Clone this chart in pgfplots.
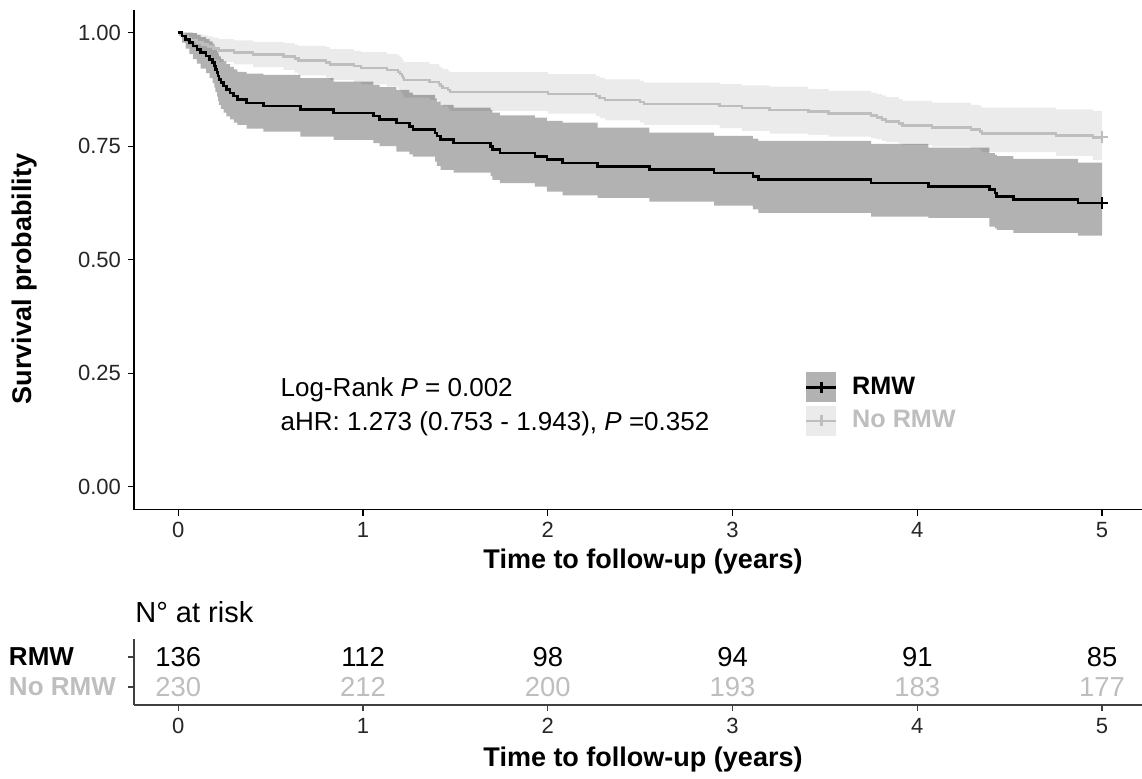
\documentclass[border=0pt]{standalone}
\usepackage{pgfplots}
\pgfplotsset{compat=1.18}
\usepackage{pgfplotstable}
\usepackage{fontspec}
\setmainfont{Liberation Sans}
\definecolor{lgrey}{HTML}{BEBEBE}

% Kaplan-Meier estimates (time, survival)
\pgfplotstableread{
t s
0 1
0.02 0.9926
0.04 0.9853
0.06 0.9779
0.08 0.9706
0.10 0.9632
0.12 0.9559
0.15 0.9485
0.17 0.9412
0.185 0.9338
0.195 0.9265
0.20 0.9191
0.21 0.9118
0.215 0.9044
0.22 0.8971
0.23 0.8897
0.245 0.8824
0.26 0.8750
0.28 0.8676
0.30 0.8603
0.32 0.8529
0.37 0.8456
0.46 0.8382
0.66 0.8309
0.84 0.8235
1.055 0.8162
1.09 0.8088
1.18 0.8015
1.25 0.7941
1.27 0.7868
1.39 0.7794
1.40 0.7721
1.42 0.7647
1.49 0.7574
1.69 0.7500
1.70 0.7426
1.74 0.7353
1.93 0.7279
1.995 0.7206
2.08 0.7132
2.27 0.7059
2.55 0.6985
2.90 0.6912
3.11 0.6838
3.14 0.6765
3.75 0.6691
4.06 0.6618
4.39 0.6544
4.42 0.6471
4.43 0.6397
4.52 0.6324
4.87 0.6250
5.00 0.6250
}\rmw

\pgfplotstableread{
t s
0 1
0.01 0.9957
0.03 0.9913
0.05 0.9870
0.07 0.9826
0.10 0.9783
0.13 0.9739
0.16 0.9696
0.19 0.9652
0.22 0.9609
0.30 0.9565
0.405 0.9522
0.57 0.9478
0.63 0.9435
0.65 0.9391
0.80 0.9348
0.82 0.9304
0.95 0.9261
0.99 0.9217
1.13 0.9174
1.19 0.9130
1.20 0.9087
1.21 0.9043
1.215 0.9000
1.22 0.8957
1.36 0.8913
1.41 0.8870
1.42 0.8826
1.43 0.8783
1.46 0.8739
1.47 0.8696
2.00 0.8652
2.26 0.8609
2.28 0.8565
2.31 0.8522
2.50 0.8478
2.52 0.8435
2.93 0.8391
3.05 0.8348
3.20 0.8304
3.41 0.8261
3.52 0.8217
3.75 0.8174
3.78 0.8130
3.81 0.8087
3.83 0.8043
3.90 0.8000
3.92 0.7957
4.08 0.7913
4.29 0.7870
4.34 0.7826
4.35 0.7783
4.75 0.7739
4.95 0.7696
5.00 0.7696
}\normw

% confidence bands: upper limit forward, then lower limit backward
\pgfplotstableread{
t y
0 1
0.02 1.000
0.04 1.000
0.06 1.000
0.08 0.999
0.10 0.995
0.12 0.990
0.15 0.986
0.17 0.981
0.185 0.976
0.195 0.970
0.20 0.965
0.21 0.959
0.215 0.954
0.22 0.948
0.23 0.942
0.245 0.937
0.26 0.931
0.28 0.925
0.30 0.919
0.32 0.914
0.37 0.910
0.46 0.907
0.66 0.900
0.84 0.892
1.055 0.885
1.09 0.880
1.18 0.874
1.25 0.868
1.27 0.863
1.39 0.855
1.40 0.848
1.42 0.841
1.49 0.835
1.69 0.830
1.70 0.824
1.74 0.818
1.93 0.813
1.995 0.806
2.08 0.802
2.27 0.791
2.55 0.780
2.90 0.773
3.11 0.767
3.14 0.762
3.75 0.755
4.06 0.747
4.39 0.735
4.42 0.731
4.43 0.728
4.52 0.722
4.87 0.714
5.00 0.714
5.00 0.553
4.87 0.559
4.52 0.566
4.43 0.569
4.42 0.573
4.39 0.592
4.06 0.595
3.75 0.603
3.14 0.611
3.11 0.619
2.90 0.628
2.55 0.636
2.27 0.642
2.08 0.650
1.995 0.661
1.93 0.669
1.74 0.676
1.70 0.684
1.69 0.692
1.49 0.698
1.42 0.707
1.40 0.716
1.39 0.727
1.27 0.732
1.25 0.738
1.18 0.750
1.09 0.757
1.055 0.764
0.84 0.771
0.66 0.782
0.46 0.789
0.37 0.797
0.32 0.802
0.30 0.809
0.28 0.816
0.26 0.824
0.245 0.832
0.23 0.841
0.22 0.850
0.215 0.859
0.21 0.869
0.20 0.879
0.195 0.889
0.185 0.900
0.17 0.911
0.15 0.921
0.12 0.932
0.10 0.942
0.08 0.953
0.06 0.965
0.04 0.978
0.02 1
0 1
}\rmwband

\pgfplotstableread{
t y
0 1
0.01 1.000
0.03 1.000
0.05 1.000
0.07 0.999
0.10 0.997
0.13 0.994
0.16 0.992
0.19 0.989
0.22 0.986
0.30 0.983
0.405 0.980
0.57 0.977
0.63 0.974
0.65 0.971
0.80 0.968
0.82 0.964
0.95 0.960
0.99 0.957
1.13 0.953
1.19 0.950
1.20 0.946
1.21 0.943
1.215 0.939
1.22 0.935
1.36 0.931
1.41 0.927
1.42 0.923
1.43 0.920
1.46 0.916
1.47 0.913
2.00 0.909
2.26 0.905
2.28 0.901
2.31 0.897
2.50 0.894
2.52 0.890
2.93 0.887
3.05 0.884
3.20 0.881
3.41 0.876
3.52 0.872
3.75 0.868
3.78 0.865
3.81 0.862
3.83 0.858
3.90 0.854
3.92 0.850
4.08 0.846
4.29 0.841
4.34 0.838
4.35 0.835
4.75 0.831
4.95 0.828
5.00 0.828
5.00 0.720
4.95 0.729
4.75 0.737
4.35 0.741
4.34 0.745
4.29 0.749
4.08 0.753
3.92 0.756
3.90 0.759
3.83 0.762
3.81 0.765
3.78 0.768
3.75 0.771
3.52 0.775
3.41 0.778
3.20 0.784
3.05 0.790
2.93 0.797
2.52 0.802
2.50 0.807
2.31 0.812
2.28 0.817
2.26 0.822
2.00 0.828
1.47 0.833
1.46 0.838
1.43 0.842
1.42 0.847
1.41 0.852
1.36 0.857
1.22 0.862
1.215 0.866
1.21 0.871
1.20 0.876
1.19 0.881
1.13 0.886
0.99 0.891
0.95 0.896
0.82 0.901
0.80 0.906
0.65 0.912
0.63 0.918
0.57 0.924
0.405 0.930
0.30 0.936
0.22 0.941
0.19 0.947
0.16 0.953
0.13 0.959
0.10 0.966
0.07 0.972
0.05 0.979
0.03 0.987
0.01 1
0 1
}\normwband

\begin{document}
\begin{tikzpicture}
\useasboundingbox (0,0) rectangle (571pt,389pt);
\begin{axis}[
  at={(67pt,134.25pt)}, anchor=south west,
  scale only axis, width=504pt, height=249.75pt,
  xmin=-0.24, xmax=5.216, ymin=-0.05, ymax=1.05,
  axis x line*=bottom, axis y line*=left,
  axis line style={line width=0.8pt, black},
  xtick={0,1,2,3,4,5}, ytick={0,0.25,0.5,0.75,1},
  tick align=outside, major tick length=3pt,
  tick style={line width=0.6pt, black},
  ticklabel style={font=\fontsize{11}{12}\selectfont, color=black!85},
  /pgf/number format/assume math mode=true,
  yticklabel style={/pgf/number format/.cd, fixed, fixed zerofill, precision=2},
  legend style={at={(axis description cs:0.6659,0.2744)}, anchor=north west, draw=none, fill=none,
    inner sep=0pt, outer sep=0pt, row sep=1.65pt, column sep=5.3pt,
    font=\bfseries\fontsize{12.6}{14}\selectfont},
  legend cell align=left,
]
\addplot[const plot, fill=lgrey, fill opacity=0.3, draw=none, forget plot] table[x=t, y=y] {\normwband};
\addplot[const plot, fill=black, fill opacity=0.3, draw=none, forget plot] table[x=t, y=y] {\rmwband};
\addplot[const plot, lgrey, line width=1.2pt, forget plot] table[x=t, y=s] {\normw};
\addplot[const plot, black, line width=1.3pt, forget plot] table[x=t, y=s] {\rmw};
\addplot[only marks, mark=+, mark size=3pt, lgrey, line width=1.1pt, forget plot] coordinates {(5,0.7696)};
\addplot[only marks, mark=+, mark size=3pt, black, line width=1.2pt, forget plot] coordinates {(5,0.625)};
\addlegendimage{legend image code/.code={
  \path[fill=black, fill opacity=0.3, draw=none] (0pt,-7.5pt) rectangle (15pt,7.5pt);
  \path[draw=black, line width=1.2pt] (0pt,0pt) -- (15pt,0pt);
  \path[draw=black, line width=1.2pt] (7.5pt,-2.7pt) -- (7.5pt,2.7pt);}}
\addlegendentry{RMW}
\addlegendimage{legend image code/.code={
  \path[fill=lgrey, fill opacity=0.3, draw=none] (0pt,-7.5pt) rectangle (15pt,7.5pt);
  \path[draw=lgrey, line width=1.2pt] (0pt,0pt) -- (15pt,0pt);
  \path[draw=lgrey, line width=1.2pt] (7.5pt,-2.7pt) -- (7.5pt,2.7pt);}}
\addlegendentry{\textcolor{lgrey}{No RMW}}
\node[anchor=base west, inner sep=0pt, font=\fontsize{13}{15}\selectfont] at (axis cs:0.552,0.198) {Log-Rank \textit{P} = 0.002};
\node[anchor=base west, inner sep=0pt, font=\fontsize{13}{15}\selectfont] at (axis cs:0.552,0.123) {aHR: 1.273 (0.753 - 1.943), \textit{P} =0.352};
\end{axis}

\begin{axis}[
  at={(67pt,36.5pt)}, anchor=south west,
  scale only axis, width=504pt, height=33pt,
  xmin=-0.24, xmax=5.216, ymin=0.4, ymax=2.6,
  axis x line*=bottom, axis y line*=left,
  axis line style={line width=0.8pt, black!75},
  xtick={0,1,2,3,4,5}, ytick={1,2}, yticklabels={,},
  tick align=outside, major tick length=3pt,
  tick style={line width=0.6pt, black!75},
  ticklabel style={font=\fontsize{11}{12}\selectfont, color=black!85},
  /pgf/number format/assume math mode=true,
]
\addplot[only marks, mark=none, nodes near coords, point meta=explicit symbolic,
  every node near coord/.append style={anchor=center, black, font=\fontsize{13.7}{15}\selectfont}]
  coordinates {(0,2)[136] (1,2)[112] (2,2)[98] (3,2)[94] (4,2)[91] (5,2)[85]};
\addplot[only marks, mark=none, nodes near coords, point meta=explicit symbolic,
  every node near coord/.append style={anchor=center, lgrey, font=\fontsize{13.7}{15}\selectfont}]
  coordinates {(0,1)[230] (1,1)[212] (2,1)[200] (3,1)[193] (4,1)[183] (5,1)[177]};
\end{axis}

\node[font=\bfseries\fontsize{13.5}{16}\selectfont] at (321.5pt,108pt) {Time to follow-up (years)};
\node[font=\bfseries\fontsize{13.5}{16}\selectfont] at (321.5pt,9pt) {Time to follow-up (years)};
\node[rotate=90, font=\bfseries\fontsize{13.5}{16}\selectfont] at (12.5pt,249.5pt) {Survival probability};
\node[anchor=west, inner sep=0pt, font=\fontsize{14.5}{17}\selectfont] at (67.5pt,83pt) {N° at risk};
\node[anchor=west, inner sep=0pt, font=\bfseries\fontsize{13}{14}\selectfont] at (4.3pt,60.5pt) {RMW};
\node[anchor=west, inner sep=0pt, font=\bfseries\fontsize{13}{14}\selectfont, lgrey] at (4.3pt,45.5pt) {No RMW};
\end{tikzpicture}
\end{document}
